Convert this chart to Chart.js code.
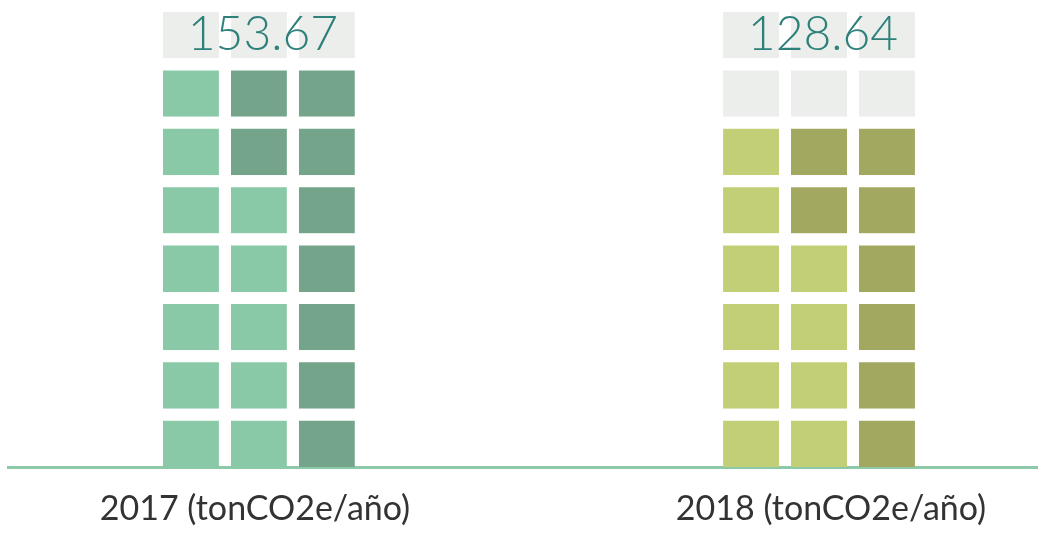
<!DOCTYPE html>
<html>
<head>
<meta charset="utf-8">
<script src="https://cdn.jsdelivr.net/npm/chart.js@4"></script>
<style>
    body { margin: 0; background: #fff; }
    #wrap { width: 1038px; height: 533px; position: relative; }
</style>
</head>
<body>
<div id="wrap"><canvas id="waffleChart"></canvas></div>
<script>
/**=================
 * Data
 =================*/
const years = ['2017 (tonCO2e/año)', '2018 (tonCO2e/año)'];
const totals = [153.67, 128.64];
// squares per column (left, middle, right), counted from the bottom up
const lightSquares = [[7, 5, 0], [6, 4, 0]];
const darkSquares = [[0, 2, 7], [0, 2, 6]];
const emptySquares = [[0, 0, 0], [1, 1, 1]];
const rowCount = 8; // top row holds the total

const lightColors = ['#8ac9a7', '#c3cf77'];
const darkColors = ['#74a58a', '#a3a860'];
const greyColor = '#eceeeb';

/**=================
 * Build datasets: one per (row, column) square
 =================*/
function squareColor(g, c, r) {
    const light = lightSquares[g][c];
    const dark = darkSquares[g][c];
    if (r < light) return lightColors[g];
    if (r < light + dark) return darkColors[g];
    return greyColor;
}

const datasets = [];
for (let r = 0; r < rowCount; r++) {
    for (let c = 0; c < 3; c++) {
        datasets.push({
            stack: 'col' + c,
            data: years.map((y, g) => ({ x: g, y: 1 })),
            backgroundColor: years.map((y, g) => squareColor(g, c, r)),
            borderColor: '#ffffff',
            borderWidth: { top: 12 },
            borderSkipped: 'start',
            categoryPercentage: 0.364,
            barPercentage: 0.824
        });
    }
}

/**=================
 * Totals and year labels
 =================*/
const textLabels = {
    id: 'textLabels',
    afterDatasetsDraw(chart) {
        const { ctx, scales: { x, y } } = chart;
        const top = y.getPixelForValue(rowCount) + 12;
        const bottom = y.getPixelForValue(rowCount - 1);
        ctx.save();
        ctx.textAlign = 'center';

        // totals in the top grey row
        ctx.font = '300 48px Lato';
        ctx.fillStyle = '#2e807a';
        ctx.textBaseline = 'middle';
        totals.forEach((t, g) => {
            ctx.fillText(t.toFixed(2), x.getPixelForValue(g) + 4, (top + bottom) / 2 - 1);
        });

        // year labels under the axis
        ctx.font = '34px Lato';
        ctx.fillStyle = '#333333';
        ctx.textBaseline = 'alphabetic';
        years.forEach((label, g) => {
            ctx.fillText(label, x.getPixelForValue(g) + (g === 0 ? -4 : 12), y.bottom + 53);
        });
        ctx.restore();
    }
};

const ctx = document.getElementById('waffleChart');
new Chart(ctx, {
    type: 'bar',
    data: { datasets },
    options: {
        responsive: true,
        maintainAspectRatio: false,
        animation: false,
        layout: { padding: { left: 8, right: 0, top: 0, bottom: 58 } },
        plugins: {
            legend: { display: false },
            tooltip: { enabled: false }
        },
        scales: {
            x: {
                type: 'linear',
                stacked: true,
                offset: false,
                min: -0.448,
                max: 1.391,
                afterBuildTicks: (scale) => {
                    scale.ticks = years.map((y, g) => ({ value: g }));
                },
                grid: { display: false },
                border: { display: true, color: '#8cc9a8', width: 3 },
                ticks: { display: false }
            },
            y: {
                stacked: true,
                display: false,
                min: 0,
                max: rowCount
            }
        }
    },
    plugins: [textLabels]
});
</script>
</body>
</html>
